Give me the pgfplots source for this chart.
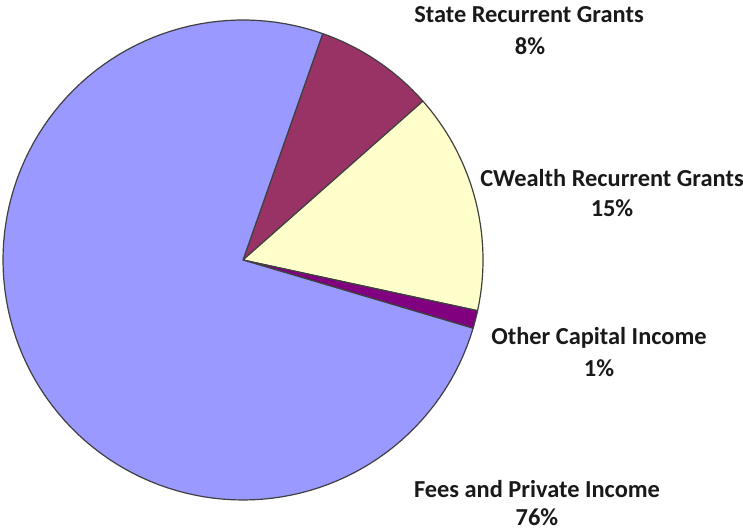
\documentclass[border=0pt]{standalone}
\usepackage{fontspec}
\setmainfont{Carlito}
\usepackage{pgfplots}
\pgfplotsset{compat=1.18}
\usepackage{pgfplotstable}
\definecolor{feesc}{HTML}{9999FF}
\definecolor{statec}{HTML}{993366}
\definecolor{cwc}{HTML}{FFFFCC}
\definecolor{othc}{HTML}{800080}
\definecolor{edgec}{HTML}{404040}
\tikzset{lbl/.style={font=\bfseries\fontsize{12.2}{14}\selectfont, text=black!90, align=center, inner sep=0pt, anchor=center}}
% share of income (%), clockwise from the start angle
\pgfplotstableread{
pct
8.1
14.9
1.2
75.8
}\slices
\begin{document}
\begin{tikzpicture}
\pgfplotstablegetelem{0}{pct}\of\slices \let\pA\pgfplotsretval
\pgfplotstablegetelem{1}{pct}\of\slices \let\pB\pgfplotsretval
\pgfplotstablegetelem{2}{pct}\of\slices \let\pC\pgfplotsretval
\pgfplotstablegetelem{3}{pct}\of\slices \let\pD\pgfplotsretval
\pgfmathsetmacro\aA{70.6}
\pgfmathsetmacro\aB{\aA-3.6*\pA}
\pgfmathsetmacro\aC{\aB-3.6*\pB}
\pgfmathsetmacro\aD{\aC-3.6*\pC}
\pgfmathsetmacro\aE{\aD-3.6*\pD}
\def\cx{243}\def\cy{269}\def\rr{240}
\begin{axis}[name=ax,
  width=371.5pt, height=264.5pt, scale only axis,
  xmin=0, xmax=743, ymin=0, ymax=529,
  hide axis, clip=false,
  every axis plot/.append style={draw=edgec, line width=0.6pt, line join=round, samples=120, no markers},
]
\addplot[fill=statec, domain=\aB:\aA] ({\cx+\rr*cos(x)},{\cy+\rr*sin(x)}) -- (\cx,\cy) -- cycle;
\addplot[fill=cwc, domain=\aC:\aB] ({\cx+\rr*cos(x)},{\cy+\rr*sin(x)}) -- (\cx,\cy) -- cycle;
\addplot[fill=othc, domain=\aD:\aC] ({\cx+\rr*cos(x)},{\cy+\rr*sin(x)}) -- (\cx,\cy) -- cycle;
\addplot[fill=feesc, domain=\aE:\aD] ({\cx+\rr*cos(x)},{\cy+\rr*sin(x)}) -- (\cx,\cy) -- cycle;
\node[lbl] at (529,514) {State Recurrent Grants};
\node[lbl] at (530,483) {8\%};
\node[lbl] at (612,351) {CWealth Recurrent Grants};
\node[lbl] at (612,321) {15\%};
\node[lbl] at (599,191) {Other Capital Income};
\node[lbl] at (599,161) {1\%};
\node[lbl] at (537,40) {Fees and Private Income};
\node[lbl] at (537,12) {76\%};
\end{axis}
\pgfresetboundingbox
\path[use as bounding box] (ax.south west) rectangle (ax.north east);
\end{tikzpicture}
\end{document}
